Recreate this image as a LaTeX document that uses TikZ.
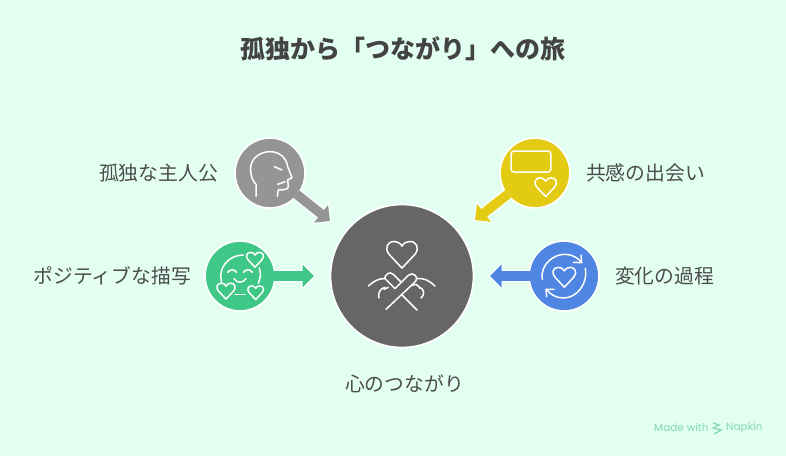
\documentclass[tikz,border=0pt]{standalone}
\usepackage{fontspec}
\setmainfont{Noto Sans CJK JP}
\newfontfamily\logofont{Poppins}
\usetikzlibrary{positioning,arrows.meta}
\definecolor{bgmint}{HTML}{E2FFF1}
\definecolor{txtdark}{HTML}{434343}
\definecolor{txtsoft}{HTML}{4C4C4C}
\definecolor{logogreen}{HTML}{82D9B1}
\definecolor{cgray}{HTML}{959595}
\definecolor{cgreen}{HTML}{3EC786}
\definecolor{cyellow}{HTML}{E3CB14}
\definecolor{cblue}{HTML}{4F86E4}
\definecolor{cdark}{HTML}{666666}
\tikzstyle{stage} = [circle, draw=white, line width=1.7pt, inner sep=0pt, minimum size=70pt]
\tikzstyle{label} = [inner sep=0pt, text=txtsoft, font=\fontsize{19.8}{22}\selectfont]
\tikzstyle{edge} = [draw=white, line width=12pt, -{Triangle[length=14pt,width=27pt,fill=white]}, shorten >=-1.6pt]
\tikzstyle{line} = [line width=9.5pt, -{Triangle[length=11.5pt,width=22pt]}, shorten <=-2pt]
\tikzstyle{icon} = [draw=white, line width=1.5pt, line cap=round, line join=round]
\tikzstyle{zoomed} = [x=0.3333pt, y=-0.3333pt]
\newcommand{\heartat}[3]{\begin{scope}[shift={(#1,#2)}, x=#3*0.3333pt, y=-#3*0.3333pt]
	\draw[icon] (0,0.9) -- (-0.8,0.05) .. controls (-1.15,-0.35) and (-0.95,-0.8) .. (-0.5,-0.8) .. controls (-0.3,-0.8) and (-0.1,-0.7) .. (0,-0.5) .. controls (0.1,-0.7) and (0.3,-0.8) .. (0.5,-0.8) .. controls (0.95,-0.8) and (1.15,-0.35) .. (0.8,0.05) -- cycle;
\end{scope}}
\begin{document}
\begin{tikzpicture}[x=1pt, y=-1pt]
\useasboundingbox[fill=bgmint] (0,0) rectangle (786,456);
% Title
\node [inner sep=0pt, text=txtdark, font=\fontsize{25}{28}\selectfont\bfseries] (title) at (402.5,49) {孤独から「つながり」への旅};
% Circles
\node [stage, fill=cdark, minimum size=143pt] (heart) at (402,276) {};
\node [stage, fill=cgray] (lonely) at (270,173) {};
\node [stage, fill=cgreen] (depict) at (240,276) {};
\node [stage, fill=cyellow] (empathy) at (535,173) {};
\node [stage, fill=cblue] (change) at (564,276) {};
% Labels
\node [label, left=16pt of lonely] (lonelytxt) {孤独な主人公};
\node [label, left=13pt of depict] (depicttxt) {ポジティブな描写};
\node [label, right=15pt of empathy] (empathytxt) {共感の出会い};
\node [label, right=15pt of change] (changetxt) {変化の過程};
\node [label, below=26pt of heart, xshift=2.5pt] (hearttxt) {心のつながり};
% Arrows
\coordinate (lonelytip) at (330,221);
\coordinate (depicttip) at (314,276);
\coordinate (empathytip) at (475,220);
\coordinate (changetip) at (490,276);
\foreach \from/\to/\col in {lonely/lonelytip/cgray, depict/depicttip/cgreen, empathy/empathytip/cyellow, change/changetip/cblue} {
	\draw [edge] (\from) -- (\to);
	\draw [line, draw=\col, fill=\col] (\from) -- (\to);
}
% Head icon
\begin{scope}[shift={(220,125)}, zoomed]
	\draw[icon] (108,214) -- (108,178) .. controls (98,168) and (92,155) .. (92,130) .. controls (92,100) and (120,80) .. (150,80) .. controls (180,80) and (200,100) .. (203,125) -- (216,158) -- (203,165) -- (205,185) .. controls (205,192) and (195,195) .. (175,195) -- (172,214);
	\draw[icon] (163,125) -- (186,135);
	\draw[icon] (173,178) -- (195,170);
\end{scope}
% Smile icon
\begin{scope}[shift={(190,230)}, zoomed]
	\draw[icon] (95,158) .. controls (82,115) and (115,75) .. (160,75);
	\draw[icon] (208,113) .. controls (213,130) and (212,145) .. (205,160);
	\draw[icon] (135,193) -- (165,193);
	\draw[icon] (113,127) .. controls (120,117) and (133,117) .. (140,127);
	\draw[icon] (160,127) .. controls (167,117) and (180,117) .. (188,127);
	\draw[icon] (132,146) .. controls (140,160) and (160,160) .. (168,146);
	\heartat{195}{88}{26}
	\heartat{108}{182}{28}
	\heartat{197}{187}{24}
\end{scope}
% Card icon
\begin{scope}[shift={(460,125)}, zoomed]
	\draw[icon, rounded corners=3pt] (153,78) rectangle (273,141);
	\heartat{257}{185}{33}
\end{scope}
% Cycle icon
\begin{scope}[shift={(480,230)}, zoomed]
	\heartat{253}{140}{35}
	\draw[icon] (187,148) .. controls (180,100) and (225,72) .. (255,73) .. controls (275,73) and (292,82) .. (305,97);
	\draw[icon] (280,97) -- (305,98) -- (303,75);
	\draw[icon] (316,115) .. controls (325,160) and (290,205) .. (250,204) .. controls (230,204) and (212,195) .. (199,178);
	\draw[icon] (200,200) -- (198,178) -- (222,178);
\end{scope}
% Hands icon
\begin{scope}[shift={(325,200)}, zoomed]
	\heartat{231}{162}{47}
	\draw[icon] (130,258) .. controls (145,245) and (160,235) .. (178,236) .. controls (182,222) and (194,212) .. (206,224) -- (230,248);
	\draw[icon] (180,236) -- (210,266) -- (250,226) .. controls (262,214) and (284,230) .. (272,244) -- (183,328);
	\draw[icon] (274,236) .. controls (295,232) and (315,243) .. (330,258);
	\draw[icon] (230,284) -- (276,330);
	\draw[icon] (180,262) .. controls (165,265) and (158,280) .. (162,294);
	\draw[icon] (177,268) -- (190,262);
	\draw[icon] (263,256) .. controls (270,250) and (280,255) .. (285,265);
	\draw[icon] (285,262) .. controls (298,268) and (300,285) .. (288,294);
\end{scope}
% Watermark
\node [inner sep=0pt, text=logogreen, font=\logofont\fontsize{10.5}{12}\selectfont, anchor=west] (made) at (654,428) {Made with};
\node [inner sep=0pt, text=logogreen, font=\logofont\fontsize{10.5}{12}\selectfont, anchor=west] (napkin) at (726,428) {Napkin};
\draw[logogreen, line width=1.3pt] (713,423) -- (719,425) -- (713,428) -- (721,430) -- (714,434);
\end{tikzpicture}
\end{document}
